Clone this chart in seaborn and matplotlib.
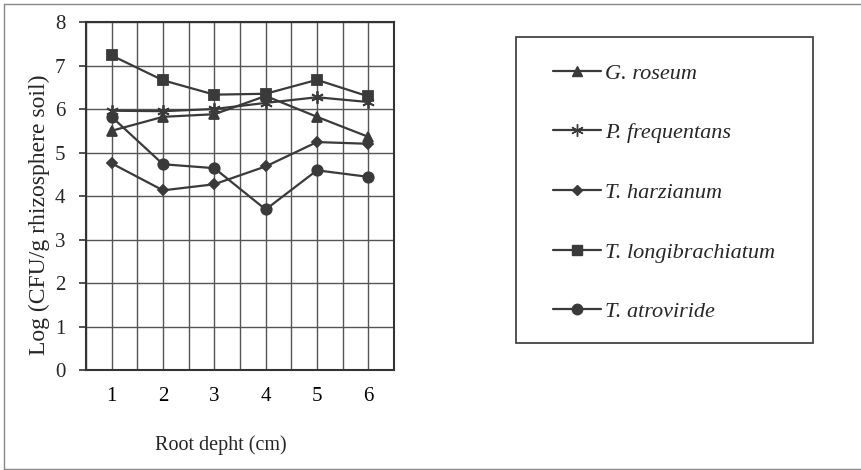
import matplotlib
matplotlib.use("Agg")
import matplotlib.pyplot as plt
import seaborn as sns
import pandas as pd
from matplotlib.lines import Line2D
from matplotlib.patches import Rectangle

depth = [1, 2, 3, 4, 5, 6]
species = ["G. roseum", "P. frequentans", "T. harzianum", "T. longibrachiatum", "T. atroviride"]
g_roseum = [5.50, 5.82, 5.88, 6.30, 5.82, 5.36]
p_frequentans = [5.96, 5.95, 6.00, 6.14, 6.27, 6.16]
t_harzianum = [4.75, 4.13, 4.27, 4.68, 5.24, 5.20]
t_longibrachiatum = [7.23, 6.66, 6.33, 6.35, 6.67, 6.29]
t_atroviride = [5.82, 4.73, 4.64, 3.69, 4.59, 4.44]
x_ticks = [1, 2, 3, 4, 5, 6]
y_ticks = [0, 1, 2, 3, 4, 5, 6, 7, 8]

series = [g_roseum, p_frequentans, t_harzianum, t_longibrachiatum, t_atroviride]
rows = []
for name, vals in zip(species, series):
    for d, v in zip(depth, vals):
        rows.append({"depth": d, "value": v, "species": name})
df = pd.DataFrame(rows)

sns.set_theme(style="white")
plt.rcParams["font.family"] = ["Liberation Serif", "DejaVu Serif"]

markers = {"G. roseum": "^", "P. frequentans": (6, 2, 0), "T. harzianum": "D",
           "T. longibrachiatum": "s", "T. atroviride": "o"}
sizes = {"G. roseum": 7, "P. frequentans": 9, "T. harzianum": 5.5,
         "T. longibrachiatum": 7, "T. atroviride": 7.5}
col = "#3a3a3a"

fig = plt.figure(figsize=(8.62, 4.70), dpi=100)
ax = fig.add_axes([86/862, 1-370/470, (394-86)/862, (370-22)/470])

for name in species:
    sub = df[df["species"] == name]
    sns.lineplot(data=sub, x="depth", y="value", ax=ax, color=col, lw=1.6,
                 marker=markers[name], markersize=sizes[name],
                 markeredgecolor=col, markerfacecolor=col, markeredgewidth=1.3,
                 legend=False)

ax.set_xlim(0.5, 6.5)
ax.set_ylim(0, 8)
ax.set_xticks(x_ticks)
ax.set_xticks([0.5 + i for i in range(7)], minor=True)
ax.set_yticks(y_ticks)
ax.grid(True, which="both", axis="x", color="#555555", lw=1.0)
ax.grid(True, which="major", axis="y", color="#555555", lw=1.0)
ax.tick_params(axis="x", which="major", length=0, pad=12, labelsize=15, colors="black")
ax.tick_params(axis="x", which="minor", length=5, width=1.2, direction="out", color="#333")
ax.tick_params(axis="y", which="major", length=5, width=1.2, direction="out",
               labelsize=15, pad=10, color="#333")
ax.tick_params(bottom=True, left=True)
for s in ax.spines.values():
    s.set_color("#333333")
    s.set_linewidth(1.5)
ax.set_xlabel("")
ax.set_ylabel("Log (CFU/g rhizosphere soil)", fontsize=17)
ax.yaxis.set_label_coords(-36/308, 0.445)
fig.text(221/862, 1-445/470, "Root depht (cm)", ha="center", va="center", fontsize=14.5)

# legend box
fig.patches.append(Rectangle((516/862, 1-343/470), (813-516)/862, (343-37)/470,
                             transform=fig.transFigure, fill=False, ec="#444444", lw=1.3))
handles = [Line2D([], [], color=col, lw=1.6, marker=markers[n], markersize=sizes[n],
                  markerfacecolor=col, markeredgecolor=col) for n in species]
leg = fig.legend(handles, species, loc="upper left", bbox_to_anchor=(533/862, 1-43/470),
                 frameon=False, handlelength=2.15, handletextpad=0.2, labelspacing=1.76,
                 prop={"family": "Liberation Serif", "style": "italic", "size": 16})

# outer frame of the scanned figure
fig.add_artist(Line2D([4/862, 4/862], [1-469/470, 1-4/470], transform=fig.transFigure, color="#888", lw=1))
fig.add_artist(Line2D([4/862, 1], [1-4/470, 1-4/470], transform=fig.transFigure, color="#888", lw=1))
fig.add_artist(Line2D([4/862, 1], [1-469/470, 1-469/470], transform=fig.transFigure, color="#888", lw=1))

fig.savefig("out.png", dpi=100)
